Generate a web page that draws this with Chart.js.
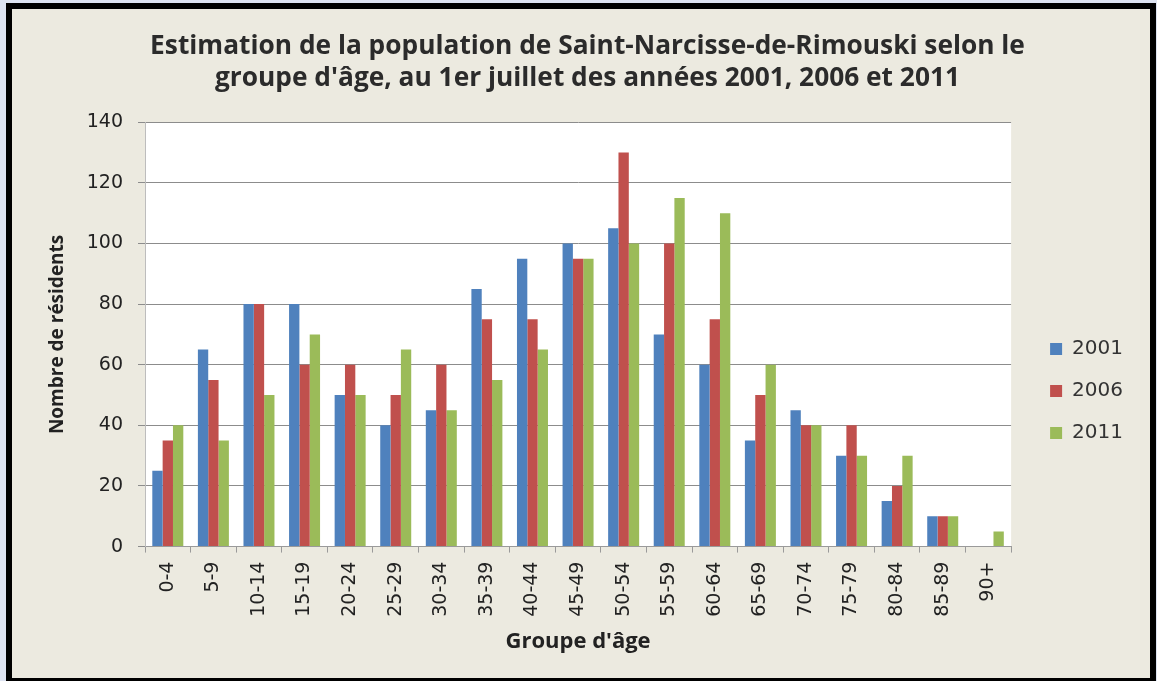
<!DOCTYPE html>
<html>
<head>
<meta charset="utf-8">
<script src="https://cdn.jsdelivr.net/npm/chart.js@4.4.1/dist/chart.umd.min.js"></script>
<style>
  html, body { margin: 0; padding: 0; background: #dde3f1; width: 1157px; height: 681px; overflow: hidden; }
  #frame { position: absolute; left: 6px; top: 3px; width: 1138px; height: 669px; border: 6px solid #000; background: #ecEAe0; }
  canvas { display: block; }
</style>
</head>
<body>
<div id="frame"><canvas id="c" width="1138" height="669"></canvas></div>
<script>
const titleLines = ["Estimation de la population de Saint-Narcisse-de-Rimouski selon le", "groupe d'âge, au 1er juillet des années 2001, 2006 et 2011"];
const ageGroups = ["0-4","5-9","10-14","15-19","20-24","25-29","30-34","35-39","40-44","45-49","50-54","55-59","60-64","65-69","70-74","75-79","80-84","85-89","90+"];
const seriesNames = ["2001", "2006", "2011"];
const values2001 = [25, 65, 80, 80, 50, 40, 45, 85, 95, 100, 105, 70, 60, 35, 45, 30, 15, 10, 0];
const values2006 = [35, 55, 80, 60, 60, 50, 60, 75, 75, 95, 130, 100, 75, 50, 40, 40, 20, 10, 0];
const values2011 = [40, 35, 50, 70, 50, 65, 45, 55, 65, 95, 100, 115, 110, 60, 40, 30, 30, 10, 5];
const yTicks = [0, 20, 40, 60, 80, 100, 120, 140];
const xTitle = "Groupe d'âge";
const yTitle = "Nombre de résidents";
const colors = ["#4f81bd", "#c0504d", "#9bbb59"];

const plotBg = {
  id: 'plotBg',
  beforeDraw(chart) {
    const {ctx, chartArea: a} = chart;
    ctx.save();
    ctx.fillStyle = '#ffffff';
    ctx.fillRect(a.left, a.top, a.right - a.left, a.bottom - a.top);
    ctx.restore();
  }
};

const tickFont = {family: "'DejaVu Sans'", size: 19};
const boldFont = "'Open Sans'";

new Chart(document.getElementById('c'), {
  type: 'bar',
  data: {
    labels: ageGroups,
    datasets: [values2001, values2006, values2011].map((v, i) => ({
      label: seriesNames[i],
      data: v,
      backgroundColor: colors[i],
      borderWidth: 0,
      categoryPercentage: 0.68,
      barPercentage: 1.0
    }))
  },
  options: {
    responsive: false,
    animation: false,
    layout: { padding: { left: 30, right: 17, top: 0, bottom: 20 } },
    plugins: {
      tooltip: { enabled: false },
      title: {
        display: true,
        text: titleLines,
        color: '#2b2b2b',
        font: { family: boldFont, size: 26.3, weight: 'bold', lineHeight: 1.24 },
        padding: { top: 21, bottom: 27 }
      },
      legend: {
        position: 'right',
        align: 'center',
        title: { display: true, text: ' ', font: { size: 10, lineHeight: 1 }, padding: { top: 105, bottom: 0 } },
        labels: {
          boxWidth: 12, boxHeight: 12, padding: 22,
          color: '#333333',
          font: { family: "'DejaVu Sans'", size: 20 }
        }
      }
    },
    scales: {
      x: {
        grid: { display: true, drawOnChartArea: false, drawTicks: true, tickLength: 6, color: '#9a9a9a', offset: true },
        border: { display: true, color: '#9a9a9a' },
        ticks: { color: '#222', font: tickFont, minRotation: 90, maxRotation: 90, padding: 9, autoSkip: false },
        title: { display: true, text: xTitle, color: '#222', font: { family: boldFont, size: 22, weight: 'bold', lineHeight: 1.1 }, padding: { top: 4, bottom: 4 } }
      },
      y: {
        min: 0, max: 140,
        afterBuildTicks(scale) { scale.ticks = yTicks.map(v => ({ value: v })); },
        grid: { color: '#8c8c8c', tickLength: 7, drawTicks: true },
        border: { display: true, color: '#bdbdbd' },
        ticks: { color: '#222', font: tickFont, padding: 15 },
        title: { display: true, text: yTitle, color: '#222', font: { family: boldFont, size: 19, weight: 'bold', lineHeight: 1.25 }, padding: { top: 4, bottom: 2 } }
      },
      y2: {
        position: 'right',
        display: true,
        grid: { display: false },
        border: { display: false },
        ticks: { display: false },
        afterFit(scale) { scale.width = 17; }
      }
    }
  },
  plugins: [plotBg]
});
</script>
</body>
</html>
